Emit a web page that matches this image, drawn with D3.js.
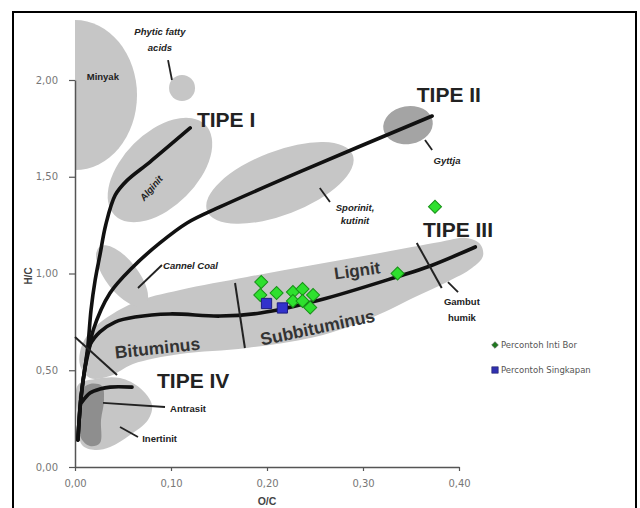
<!DOCTYPE html>
<html><head><meta charset="utf-8">
<script src="https://cdn.jsdelivr.net/npm/d3@7"></script>
<style>body{margin:0;background:#fff}svg{display:block}</style>
</head><body>
<svg id="c" width="640" height="508"></svg>
<script>
// ---- data (O/C, H/C) ----
const xTicks = [0, 0.1, 0.2, 0.3, 0.4];
const yTicks = [0, 0.5, 1.0, 1.5, 2.0];
const intiBorOC = [0.194, 0.193, 0.210, 0.227, 0.237, 0.248, 0.227, 0.237, 0.245, 0.336, 0.375];
const intiBorHC = [0.956, 0.889, 0.899, 0.904, 0.920, 0.889, 0.858, 0.858, 0.824, 1.000, 1.345];
const singkapanOC = [0.1995, 0.216];
const singkapanHC = [0.845, 0.822];
const legendNames = ["Percontoh Inti Bor", "Percontoh Singkapan"];

// evolution paths
const tipeI   = [[0.003,0.14],[0.006,0.346],[0.010,0.50],[0.0135,0.63],[0.0167,0.811],[0.021,0.966],[0.026,1.096],[0.032,1.251],[0.042,1.406],[0.054,1.48],[0.078,1.576],[0.120,1.752]];
const tipeII  = [[0.003,0.14],[0.006,0.346],[0.010,0.50],[0.0156,0.63],[0.019,0.708],[0.0365,0.899],[0.0604,1.034],[0.0885,1.158],[0.1167,1.261],[0.151,1.344],[0.234,1.525],[0.372,1.814]];
const tipeIII = [[0.003,0.14],[0.006,0.346],[0.010,0.50],[0.0156,0.63],[0.026,0.698],[0.0417,0.749],[0.0625,0.775],[0.099,0.791],[0.151,0.780],[0.193,0.796],[0.255,0.863],[0.335,0.982],[0.370,1.039],[0.417,1.137]];
const tipeIV  = [[0.0073,0.336],[0.0156,0.382],[0.026,0.403],[0.0365,0.413],[0.0594,0.413]];

// regions
const coalBand = [[0.0073,0.630],[0.0208,0.7235],[0.0604,0.8475],[0.1094,0.9147],[0.1792,0.9819],[0.2479,1.0439],[0.3177,1.106],[0.3802,1.1628],[0.4073,1.1835],[0.4219,1.1525],[0.425,1.0904],[0.4135,1.0284],[0.3875,0.956],[0.352,0.8734],[0.3177,0.7907],[0.2583,0.6822],[0.1792,0.615],[0.1094,0.584],[0.0604,0.5323],[0.0365,0.4703],[0.0156,0.46],[0.0052,0.527]];
const inertinit = [[0.0031,0.4238],[0.0208,0.4548],[0.0469,0.46],[0.0677,0.4083],[0.0802,0.3204],[0.076,0.2429],[0.0573,0.1654],[0.0365,0.1034],[0.0208,0.0879],[0.0073,0.1137],[0.0031,0.2429]];
const antrasit = [[0.0052,0.3876],[0.0156,0.4289],[0.0281,0.4186],[0.0302,0.3463],[0.0271,0.2429],[0.026,0.124],[0.0156,0.1085],[0.00625,0.1499],[0.0042,0.2687]];
// ellipses: centre O/C, H/C, half-axes in O/C and H/C units, rotation (deg)
const ellipseNames = ["Minyak","Phytic","Alginit","Sporinit","Gyttja","Cannel"];
const ellipseCO = [0, 0.1115, 0.0885, 0.2135, 0.3469, 0.049];
const ellipseCH = [1.922, 1.959, 1.535, 1.468, 1.767, 0.987];
const ellipseRO = [0.0646, 0.01354, 0.0667, 0.08125, 0.026, 0.0385];
const ellipseRH = [0.3876, 0.0672, 0.191, 0.165, 0.098, 0.083];
const ellipseRot = [0, 0, -45, -21, -10, 52];

// boundaries and leaders
const boundaries = [
  [[0,0.672],[0.04375,0.475]],
  [[0.1667,0.951],[0.177,0.615]],
  [[0.356,1.158],[0.382,0.925]]
];
const leaders = [
  [[0.0969,2.103],[0.101,2.0]],
  [[0.255,1.442],[0.2656,1.3695]],
  [[0.3646,1.690],[0.372,1.638]],
  [[0.0656,0.925],[0.0906,1.044]],
  [[0.3885,0.956],[0.399,0.904]],
  [[0.0292,0.331],[0.09375,0.310]],
  [[0.0469,0.207],[0.0656,0.155]]
];

// ---- drawing ----
const svg = d3.select('#c');
const x = d3.scaleLinear().domain([0, 0.4]).range([75, 459]);
const y = d3.scaleLinear().domain([0, 2]).range([467, 80]);
const fmt = d => d.toFixed(2).replace('.', ',');

svg.append('rect').attr('x',13).attr('y',12).attr('width',623).attr('height',530)
  .attr('fill','#fff').attr('stroke','#000').attr('stroke-width',2);

svg.append('defs').append('clipPath').attr('id','rightOfAxis')
  .append('rect').attr('x',x(0)).attr('y',0).attr('width',600).attr('height',508);

const LIGHT = '#c6c6c6';
const fills = [LIGHT, LIGHT, LIGHT, LIGHT, '#a4a4a4', LIGHT];

// band and lower regions
const closed = d3.line().x(d=>x(d[0])).y(d=>y(d[1])).curve(d3.curveCatmullRomClosed.alpha(0.5));
svg.append('path').attr('d', closed(coalBand)).attr('fill', LIGHT);
svg.append('path').attr('d', closed(inertinit)).attr('fill', LIGHT);
svg.append('path').attr('d', closed(antrasit)).attr('fill', '#8e8e8e');

ellipseNames.forEach((n,i) => {
  const cx = x(ellipseCO[i]), cy = y(ellipseCH[i]);
  const rx = x(ellipseCO[i]+ellipseRO[i]) - x(ellipseCO[i]);
  const ry = y(ellipseCH[i]) - y(ellipseCH[i]+ellipseRH[i]);
  if (n === 'Minyak') {
    svg.append('g').attr('clip-path','url(#rightOfAxis)')
      .append('ellipse').attr('cx',cx).attr('cy',cy).attr('rx',rx).attr('ry',ry).attr('fill',fills[i]);
  } else {
    svg.append('ellipse').attr('cx',0).attr('cy',0).attr('rx',rx).attr('ry',ry)
      .attr('fill', fills[i])
      .attr('transform', `translate(${cx},${cy}) rotate(${ellipseRot[i]})`);
  }
});

// axes
const xa = svg.append('g').attr('transform',`translate(0,${y(0)})`)
  .call(d3.axisBottom(x).tickValues(xTicks).tickFormat(fmt).tickSizeInner(4).tickSizeOuter(0).tickPadding(9));
const ya = svg.append('g').attr('transform',`translate(${x(0)},0)`)
  .call(d3.axisLeft(y).tickValues(yTicks).tickFormat(fmt).tickSizeInner(6).tickSizeOuter(0).tickPadding(11));
[xa, ya].forEach(a => {
  a.select('.domain').attr('stroke','#555').attr('stroke-width',1.5);
  a.selectAll('.tick line').attr('stroke','#555').attr('stroke-width',1.2);
  a.selectAll('.tick text').attr('fill','#777').style('font-family','DejaVu Sans').style('font-size','10px');
});

svg.append('text').attr('x', x(0.2)).attr('y', 505).attr('text-anchor','middle')
  .style('font-family','Liberation Sans').style('font-weight','bold').style('font-size','10.5px').attr('fill','#444').text('O/C');
svg.append('text').attr('transform','translate(32,276) rotate(-90)').attr('text-anchor','middle')
  .style('font-family','Liberation Sans').style('font-weight','bold').style('font-size','10px').attr('fill','#444').text('H/C');

// evolution lines
const smooth = d3.line().x(d=>x(d[0])).y(d=>y(d[1])).curve(d3.curveCatmullRom.alpha(0.5));
[tipeI, tipeII, tipeIII, tipeIV].forEach(p => {
  svg.append('path').attr('d', smooth(p)).attr('fill','none').attr('stroke','#111')
    .attr('stroke-width',3.6).attr('stroke-linecap','round');
});
const straight = d3.line().x(d=>x(d[0])).y(d=>y(d[1]));
boundaries.forEach(p => svg.append('path').attr('d', straight(p)).attr('stroke','#222').attr('stroke-width',2).attr('fill','none'));
leaders.forEach(p => svg.append('path').attr('d', straight(p)).attr('stroke','#222').attr('stroke-width',1.8).attr('fill','none'));

// points
const diamond = d3.symbol().type(d3.symbolSquare).size(85);
const square = d3.symbol().type(d3.symbolSquare).size(105);
intiBorOC.forEach((o,i) => {
  svg.append('path').attr('d', diamond())
    .attr('transform', `translate(${x(o)},${y(intiBorHC[i])}) rotate(45)`)
    .attr('fill','#2ee02e').attr('stroke','#179217').attr('stroke-width',1);
});
singkapanOC.forEach((o,i) => {
  svg.append('path').attr('d', square())
    .attr('transform', `translate(${x(o)},${y(singkapanHC[i])})`)
    .attr('fill','#3232cc').attr('stroke','#1c1c80').attr('stroke-width',1);
});

// labels
function label(t, o, h, opt) {
  const px = x(o), py = y(h);
  return svg.append('text')
    .attr('transform', `translate(${px},${py}) rotate(${opt.rot||0})`)
    .attr('text-anchor', opt.anchor || 'middle')
    .style('font-family', 'Liberation Sans')
    .style('font-weight', 'bold')
    .style('font-style', opt.italic ? 'italic' : 'normal')
    .style('font-size', (opt.size||10) + 'px')
    .attr('fill', opt.fill || '#222')
    .text(t);
}
label('TIPE I', 0.127, 1.757, {anchor:'start', size:21});
label('TIPE II', 0.356, 1.886, {anchor:'start', size:21});
label('TIPE III', 0.3625, 1.189, {anchor:'start', size:21});
label('TIPE IV', 0.0854, 0.408, {anchor:'start', size:21});
label('Minyak', 0.029, 2.0, {size:9.5});
label('Phytic fatty', 0.0885, 2.232, {size:9.5, italic:true});
label('acids', 0.0885, 2.150, {size:9.5, italic:true});
label('Alginit', 0.082, 1.43, {size:9.5, italic:true, rot:-50});
label('Sporinit,', 0.2917, 1.323, {size:9.5, italic:true});
label('kutinit', 0.2917, 1.258, {size:9.5, italic:true});
label('Gyttja', 0.3875, 1.566, {size:9.5, italic:true});
label('Cannel Coal', 0.0917, 1.023, {anchor:'start', size:9.5, italic:true});
label('Lignit', 0.2948, 0.985, {size:17, rot:-8, fill:'#333'});
label('Subbituminus', 0.254, 0.690, {size:17.5, rot:-12, fill:'#333'});
label('Bituminus', 0.0865, 0.584, {size:17.5, rot:-6, fill:'#333'});
label('Gambut', 0.403, 0.837, {size:9.5});
label('humik', 0.403, 0.755, {size:9.5});
label('Antrasit', 0.099, 0.284, {anchor:'start', size:9.5});
label('Inertinit', 0.070, 0.129, {anchor:'start', size:9.5});

// legend
const lg = svg.append('g');
lg.append('path').attr('d', d3.symbol().type(d3.symbolSquare).size(22)())
  .attr('transform','translate(495,345) rotate(45)').attr('fill','#1e7a1e').attr('stroke','#555').attr('stroke-width',0.6);
lg.append('path').attr('d', d3.symbol().type(d3.symbolSquare).size(42)())
  .attr('transform','translate(495,370)').attr('fill','#3030b0').attr('stroke','#222266').attr('stroke-width',0.6);
legendNames.forEach((n,i) => {
  lg.append('text').attr('x',501).attr('y',348 + i*25).text(n)
    .style('font-family','DejaVu Sans').style('font-size','8.5px').attr('fill','#555');
});
</script>
</body></html>
